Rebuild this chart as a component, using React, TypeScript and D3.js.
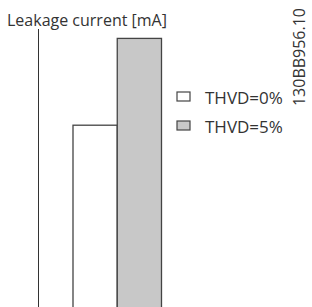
import { scaleBand, scaleLinear } from 'd3'

// leakage current for each THVD case (arbitrary units)
const categories = ['THVD=0%', 'THVD=5%']
const leakage = [6.6, 9.7]
const fills = ['#ffffff', '#c8c8c8']

const width = 312
const height = 307
const axisX = 38.5
const axisTop = 29
const baseY = 310
const textColor = '#333333'
const font = '"Open Sans", sans-serif'

const App = () => {
  const x = scaleBand<string>().domain(categories).range([73, 161.5]).paddingInner(0).paddingOuter(0)
  const y = scaleLinear().domain([0, 10]).range([baseY, 30])

  return (
    <svg
      width={width}
      height={height}
      viewBox={`0 0 ${width} ${height}`}
      style={{ position: 'absolute', left: 0, top: 0, background: '#fff' }}
      fontFamily={font}
    >
      <text x={7} y={26} fontSize={16} fill={textColor}>
        Leakage current [mA]
      </text>
      <line x1={axisX} x2={axisX} y1={axisTop} y2={baseY} stroke={textColor} strokeWidth={1} />

      {categories.map((c, i) => (
        <rect
          key={c}
          x={x(c) ?? 0}
          y={y(leakage[i])}
          width={x.bandwidth()}
          height={baseY - y(leakage[i])}
          fill={fills[i]}
          stroke="#444"
          strokeWidth={1.3}
        />
      ))}

      {categories.map((c, i) => (
        <g key={c} transform={`translate(177, ${92 + i * 29})`}>
          <rect width={13} height={9} fill={fills[i]} stroke="#444" strokeWidth={1.2} />
          <text x={28} y={12} fontSize={17} fill={textColor}>
            {c}
          </text>
        </g>
      ))}

      <text
        transform="translate(305, 8) rotate(-90)"
        textAnchor="end"
        fontSize={16}
        fill={textColor}
      >
        130BB956.10
      </text>
    </svg>
  )
}

export default App
